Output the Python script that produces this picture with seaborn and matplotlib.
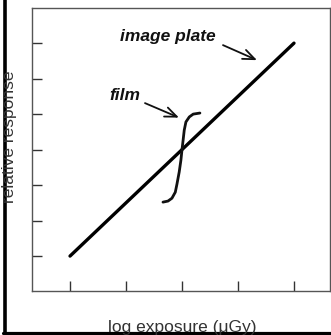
import numpy as np
import pandas as pd
import matplotlib
matplotlib.use("Agg")
import matplotlib.pyplot as plt
import seaborn as sns
from matplotlib.lines import Line2D

# image plate: straight response over the whole exposure range
plate_x = [1.0, 5.0]
plate_y = [1.0, 7.0]

# film: steep S-shaped characteristic curve
film_x = [2.66, 2.75, 2.82, 2.88, 2.91, 2.95, 2.98, 3.00, 3.02, 3.04, 3.07, 3.13, 3.20, 3.32]
film_y = [2.52, 2.55, 2.63, 2.80, 3.03, 3.37, 3.70, 4.00, 4.27, 4.55, 4.78, 4.92, 5.00, 5.03]

x_ticks = [1, 2, 3, 4, 5]
y_ticks = [1, 2, 3, 4, 5, 6, 7]

sns.set_style("white")
plt.rcParams['font.family'] = ['Liberation Sans', 'DejaVu Sans']

fig = plt.figure(figsize=(3.31, 3.35), dpi=100)
ax = fig.add_axes([32 / 331, 44.5 / 335, 297.5 / 331, 282.5 / 335])

plate = pd.DataFrame({'x': plate_x, 'y': plate_y})
film = pd.DataFrame({'x': film_x, 'y': film_y})
sns.lineplot(data=plate, x='x', y='y', ax=ax, color='black', linewidth=2.4,
             sort=False, estimator=None)
sns.lineplot(data=film, x='x', y='y', ax=ax, color='#111111', linewidth=2.0,
             sort=False, estimator=None)

ax.set_xlim(0.321, 5.634)
ax.set_ylim(0.03, 7.99)
ax.set_xticks(x_ticks)
ax.set_yticks(y_ticks)
ax.set_xticklabels([])
ax.set_yticklabels([])
ax.tick_params(direction='in', length=7.5, width=1.0, color='#333333',
               bottom=True, left=True)
ax.set_xlabel('')
ax.set_ylabel('')
for sp in ax.spines.values():
    sp.set_color('#555555')
    sp.set_linewidth(1.0)

# labels with arrows
arrow_style = dict(arrowstyle='->,head_length=0.85,head_width=0.35',
                   color='#111111', lw=1.3, shrinkA=0, shrinkB=0)
ax.text(2.741, 7.056, 'image plate', ha='center', va='baseline',
        fontsize=12.5, fontweight='bold', fontstyle='italic', color='#111111')
ax.annotate('', xy=(4.339, 6.521), xytext=(3.732, 6.944), arrowprops=arrow_style)
ax.text(1.982, 5.394, 'film', ha='center', va='baseline',
        fontsize=12.5, fontweight='bold', fontstyle='italic', color='#111111')
ax.annotate('', xy=(2.946, 4.901), xytext=(2.339, 5.310), arrowprops=arrow_style)

# axis titles, partly cut by the outer frame
fig.text(182 / 331, 2.6 / 335, 'log exposure (\u03bcGy)', ha='center', va='baseline',
         fontsize=12.5, color='#333333')
fig.text(10 / 331, 1 - 137 / 335, 'relative response', ha='center', va='center',
         rotation=90, fontsize=12.5, color='#333333')

# outer black frame (left and bottom)
fig.add_artist(Line2D([4.5 / 331, 4.5 / 331], [2.5 / 335, 1.0], color='black',
                      linewidth=2.6, transform=fig.transFigure))
fig.add_artist(Line2D([3 / 331, 1.0], [2.5 / 335, 2.5 / 335], color='black',
                      linewidth=2.3, transform=fig.transFigure))

fig.savefig('out.png', dpi=100)
